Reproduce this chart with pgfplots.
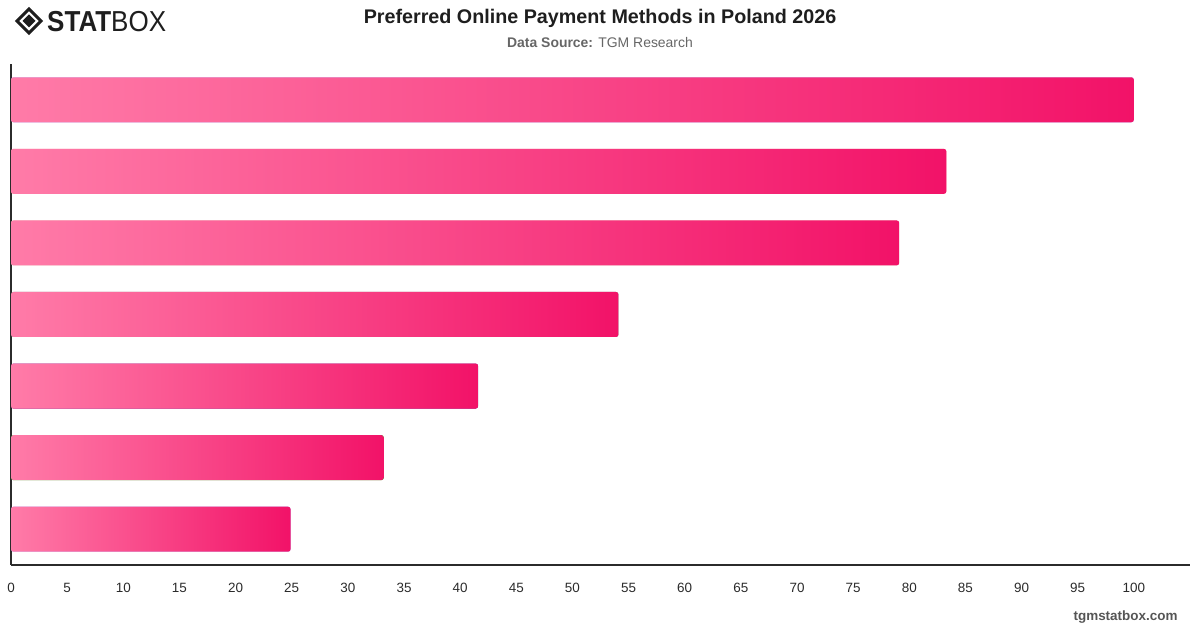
\documentclass[border=0pt]{standalone}
\usepackage{pgfplots}
\pgfplotsset{compat=1.18}
\usepackage{fontspec}
\setmainfont{Liberation Sans}
\definecolor{barL}{HTML}{FF7BA8}
\definecolor{barR}{HTML}{F21268}
\definecolor{axisc}{HTML}{2B2B2B}
\definecolor{titlec}{HTML}{1E1E1E}
\definecolor{subc}{HTML}{666666}
\definecolor{wm}{HTML}{555555}
\begin{document}
\begin{tikzpicture}[x=1bp,y=1bp]
\useasboundingbox (0,0) rectangle (1200,628);
\begin{axis}[at={(11bp,63bp)}, anchor=south west, scale only axis,
 width=1179bp, height=501bp,
 xmin=0, xmax=105, ymin=-0.5, ymax=6.5,
 axis x line*=bottom, axis y line*=left,
 axis line style={axisc, line width=1.2bp, -},
 xtick={0,5,...,100}, ytick=\empty, major tick length=0,
 xticklabel style={font=\fontsize{13.5}{15}\selectfont, text=axisc, yshift=-15bp},
 /pgf/number format/assume math mode=true,
 xbar, bar width=45bp, bar shift=0pt,
 every axis plot/.append style={draw=none, left color=barL, right color=barR, rounded corners=2.5bp}]
\addplot coordinates {(100,6)};
\addplot coordinates {(83.3,5)};
\addplot coordinates {(79.1,4)};
\addplot coordinates {(54.1,3)};
\addplot coordinates {(41.6,2)};
\addplot coordinates {(33.2,1)};
\addplot coordinates {(24.9,0)};
\end{axis}
% title
\node[font=\fontsize{19.8}{23}\selectfont\bfseries, text=titlec] at (600,610) {Preferred Online Payment Methods in Poland 2026};
\node[font=\fontsize{14}{16}\selectfont, text=subc] at (600,585) {\textbf{Data Source:} TGM Research};
% watermark
\node[font=\fontsize{13.5}{15}\selectfont\bfseries, text=wm, anchor=east] at (1181,11) {tgmstatbox.com};
% logo
\draw[titlec, line width=3bp, line join=miter] (29,619) -- (41,607) -- (29,595) -- (17,607) -- cycle;
\fill[titlec] (29,613.5) -- (35.5,607) -- (29,600.5) -- (22.5,607) -- cycle;
\node[anchor=base west, inner sep=0, text=titlec] at (47,596) {\scalebox{0.9}[1]{\fontsize{29}{30}\selectfont\bfseries STAT}\scalebox{0.9}[1]{\fontsize{29}{30}\selectfont BOX}};
\end{tikzpicture}
\end{document}
